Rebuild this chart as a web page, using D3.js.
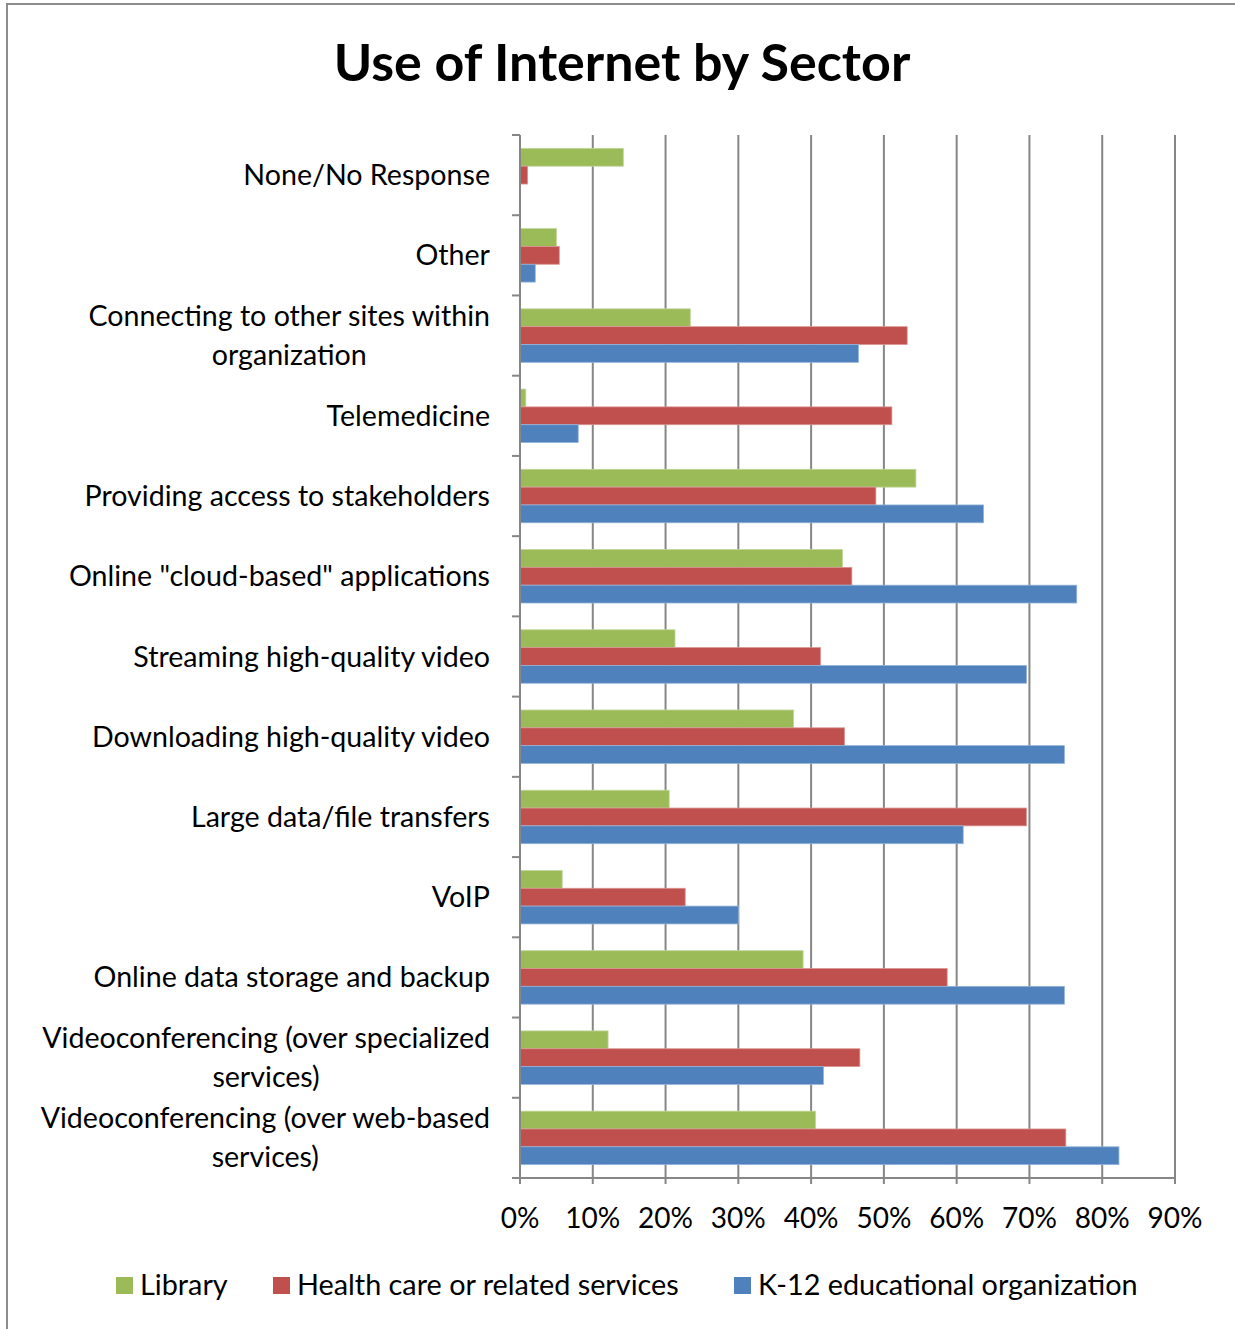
<!DOCTYPE html>
<html>
<head>
<meta charset="utf-8">
<script src="https://cdn.jsdelivr.net/npm/d3@7"></script>
<style>
  html, body { margin: 0; padding: 0; background: #fff; }
  svg { display: block; }
  text { font-family: Lato, "Open Sans", sans-serif; fill: #000; }
</style>
</head>
<body>
<svg id="chart" width="1235" height="1329"></svg>
<script>
// ---- data ----
const categories = [
  "None/No Response",
  "Other",
  "Connecting to other sites within organization",
  "Telemedicine",
  "Providing access to stakeholders",
  "Online \"cloud-based\" applications",
  "Streaming high-quality video",
  "Downloading high-quality video",
  "Large data/file transfers",
  "VoIP",
  "Online data storage and backup",
  "Videoconferencing (over specialized services)",
  "Videoconferencing (over web-based services)"
];
const categoryLines = [
  ["None/No Response"],
  ["Other"],
  ["Connecting to other sites within", "organization"],
  ["Telemedicine"],
  ["Providing access to stakeholders"],
  ["Online \"cloud-based\" applications"],
  ["Streaming high-quality video"],
  ["Downloading high-quality video"],
  ["Large data/file transfers"],
  ["VoIP"],
  ["Online data storage and backup"],
  ["Videoconferencing (over specialized", "services)"],
  ["Videoconferencing (over web-based", "services)"]
];
const seriesNames = ["Library", "Health care or related services", "K-12 educational organization"];
const library  = [14.2, 5.0, 23.4, 0.8, 54.4, 44.3, 21.3, 37.6, 20.5, 5.8, 38.9, 12.1, 40.6];
const health   = [1.05, 5.4, 53.2, 51.1, 48.9, 45.6, 41.3, 44.6, 69.6, 22.7, 58.7, 46.7, 75.0];
const k12      = [0, 2.1, 46.5, 8.0, 63.7, 76.5, 69.6, 74.8, 60.9, 30.0, 74.8, 41.7, 82.3];
const xTicks = [0, 10, 20, 30, 40, 50, 60, 70, 80, 90];
const colors = ["#9BBB59", "#C0504D", "#4F81BD"];
const strokeColors = ["#c3d69b", "#d99694", "#95b3d7"];
const title = "Use of Internet by Sector";

const seriesValues = [library, health, k12];

// ---- layout ----
const svg = d3.select("#chart");
const plotLeft = 520, plotRight = 1175, plotTop = 135, plotBottom = 1178;
const gridColor = "#868686";

// frame
svg.append("path")
  .attr("d", `M7,1329 L7,4 L1235,4`)
  .attr("fill", "none").attr("stroke", "#8c8c8c").attr("stroke-width", 2);

// title
svg.append("text")
  .attr("x", 622).attr("y", 81)
  .attr("text-anchor", "middle")
  .attr("font-size", 52).attr("font-weight", "bold")
  .text(title);

const x = d3.scaleLinear().domain([0, 90]).range([plotLeft, plotRight]);
const y = d3.scaleBand().domain(categories).range([plotTop, plotBottom]).padding(0);
const ySub = d3.scaleBand().domain(seriesNames).range([0, y.bandwidth()]).paddingInner(0).paddingOuter(0.75);

// gridlines
svg.append("g").selectAll("line")
  .data(xTicks.filter(t => t > 0))
  .join("line")
  .attr("x1", d => x(d)).attr("x2", d => x(d))
  .attr("y1", plotTop).attr("y2", plotBottom)
  .attr("stroke", gridColor).attr("stroke-width", 2);

// bars
const groups = svg.append("g").selectAll("g")
  .data(categories)
  .join("g")
  .attr("transform", d => `translate(0,${y(d)})`);

groups.selectAll("rect")
  .data((d, i) => seriesNames.map((s, j) => ({ s, j, v: seriesValues[j][i] })))
  .join("rect")
  .attr("x", x(0))
  .attr("y", d => ySub(d.s))
  .attr("width", d => Math.max(0, x(d.v) - x(0)))
  .attr("height", ySub.bandwidth())
  .attr("fill", d => colors[d.j])
  .attr("stroke", d => d.v > 0 ? strokeColors[d.j] : "none")
  .attr("stroke-width", 0.8);

// left axis line + ticks
const boundaries = categories.map(c => y(c)).concat([plotBottom]);
svg.append("line")
  .attr("x1", plotLeft).attr("x2", plotLeft)
  .attr("y1", plotTop).attr("y2", plotBottom + 6)
  .attr("stroke", gridColor).attr("stroke-width", 2);
svg.append("g").selectAll("line")
  .data(boundaries)
  .join("line")
  .attr("x1", plotLeft - 8).attr("x2", plotLeft)
  .attr("y1", d => d).attr("y2", d => d)
  .attr("stroke", gridColor).attr("stroke-width", 2);

// bottom axis
svg.append("line")
  .attr("x1", plotLeft - 8).attr("x2", plotRight)
  .attr("y1", plotBottom).attr("y2", plotBottom)
  .attr("stroke", gridColor).attr("stroke-width", 2);
svg.append("g").selectAll("line")
  .data(xTicks)
  .join("line")
  .attr("x1", d => x(d)).attr("x2", d => x(d))
  .attr("y1", plotBottom).attr("y2", plotBottom + 6)
  .attr("stroke", gridColor).attr("stroke-width", 2);
svg.append("g").selectAll("text")
  .data(xTicks)
  .join("text")
  .attr("x", d => x(d)).attr("y", 1228)
  .attr("text-anchor", "middle")
  .attr("font-size", 28)
  .text(d => d + "%");

// category labels (block right aligned, lines centered)
const labelRight = 490, lineH = 39, labelSize = 28.6;
categories.forEach((c, i) => {
  const lines = categoryLines[i];
  const g = svg.append("g");
  const cy = y(c) + y.bandwidth() / 2;
  const texts = lines.map((ln, k) => g.append("text")
    .attr("font-size", labelSize)
    .attr("y", cy + (k - (lines.length - 1) / 2) * lineH + 10)
    .text(ln));
  const maxW = d3.max(texts, t => t.node().getComputedTextLength());
  texts.forEach(t => t.attr("text-anchor", "middle").attr("x", labelRight - maxW / 2));
});

// legend
const legendX = [116, 273, 734];
const legend = svg.append("g").selectAll("g")
  .data(seriesNames)
  .join("g")
  .attr("transform", (d, i) => `translate(${legendX[i]},1277)`);
legend.append("rect")
  .attr("width", 17).attr("height", 17)
  .attr("fill", (d, i) => colors[i]);
legend.append("text")
  .attr("x", 24).attr("y", 18)
  .attr("font-size", 28.8)
  .text(d => d);
</script>
</body>
</html>
